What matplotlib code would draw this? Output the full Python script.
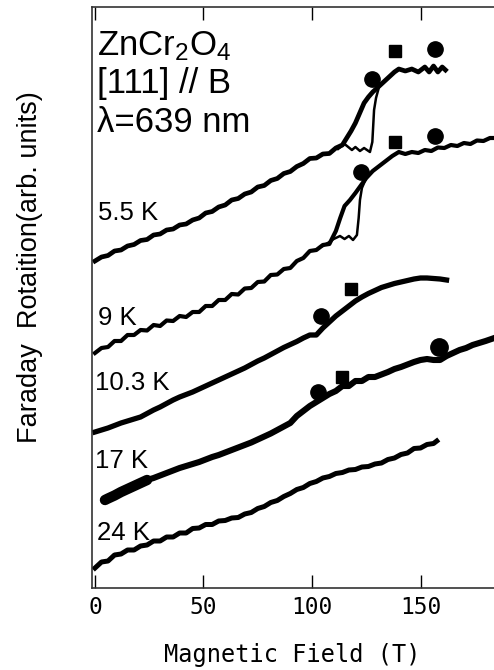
import matplotlib
matplotlib.use("Agg")
import matplotlib.pyplot as plt

# Faraday rotation traces (arb. units, curves already offset for display)
# 24 K
field_24K = [0, 3, 6, 9, 12, 15, 18, 21, 24, 27, 30, 33, 36, 39, 42, 45, 48, 51, 54, 57,
             60, 63, 66, 69, 72, 75, 78, 81, 84, 87, 90, 93, 96, 99, 102, 105, 108, 111, 114, 117,
             120, 123, 126, 129, 132, 135, 138, 141, 144, 147, 150, 153, 156, 157.5]
rot_24K = [2.0, 2.6, 2.7, 3.3, 3.4, 3.8, 3.8, 4.2, 4.3, 4.7, 4.7, 5.1, 5.1, 5.5, 5.5, 5.95, 6.0, 6.35, 6.35, 6.7,
           6.75, 7.0, 7.05, 7.4, 7.55, 7.95, 8.15, 8.55, 8.75, 9.15, 9.45, 9.85, 10.05, 10.45, 10.65, 11.0, 11.15, 11.45, 11.55, 11.8,
           11.85, 12.1, 12.15, 12.4, 12.5, 12.85, 13.0, 13.35, 13.5, 13.95, 14.0, 14.35, 14.45, 14.7]

# 17 K
field_17K = [4.6, 6, 9, 12, 15, 18, 21, 24, 27, 30, 33, 36, 39, 42, 45, 48, 51, 54, 57, 60,
             63, 66, 69, 72, 75, 78, 81, 84, 87, 90, 93, 96, 99, 102, 105, 108, 111, 114, 117, 120,
             123, 126, 129, 132, 135, 138, 141, 144, 147, 150, 153, 156, 159, 162, 165, 168, 171, 174, 177, 180, 184]
rot_17K = [8.8, 8.95, 9.25, 9.6, 9.9, 10.2, 10.5, 10.8, 11.0, 11.25, 11.5, 11.75, 12.0, 12.2, 12.4, 12.6, 12.85, 13.1, 13.3, 13.55,
           13.8, 14.05, 14.3, 14.55, 14.85, 15.15, 15.45, 15.8, 16.15, 16.5, 17.2, 17.7, 18.2, 18.6, 19.0, 19.4, 19.7, 20.2, 20.2, 20.7,
           20.7, 21.1, 21.1, 21.35, 21.6, 21.9, 22.1, 22.35, 22.6, 22.8, 22.9, 22.8, 22.8, 23.2, 23.5, 23.8, 24.0, 24.3, 24.5, 24.7, 25.0]

# 10.3 K
field_10K = [0, 3, 6, 9, 12, 15, 18, 21, 24, 27, 30, 33, 36, 39, 42, 45, 48, 51, 54, 57,
             60, 63, 66, 69, 72, 75, 78, 81, 84, 87, 90, 93, 96, 99, 102, 105, 108, 111, 114, 117,
             120, 123, 126, 129, 132, 135, 138, 141, 144, 147, 150, 153, 156, 159, 162]
rot_10K = [15.6, 15.8, 16.0, 16.25, 16.5, 16.7, 16.9, 17.1, 17.45, 17.8, 18.1, 18.45, 18.8, 19.1, 19.35, 19.6, 19.9, 20.2, 20.5, 20.8,
           21.1, 21.4, 21.7, 22.0, 22.35, 22.7, 23.0, 23.35, 23.7, 24.05, 24.35, 24.65, 25.0, 25.3, 25.3, 26.0, 26.6, 27.2, 27.7, 28.2,
           28.7, 29.1, 29.45, 29.75, 30.05, 30.25, 30.45, 30.6, 30.75, 30.9, 31.0, 31.0, 30.95, 30.9, 30.8]

# 9 K (down sweep, full trace) and up sweep branch around the jump
field_9K = [0, 3, 6, 9, 12, 15, 18, 21, 24, 27, 30, 33, 36, 39, 42, 45, 48, 51, 54, 57,
            60, 63, 66, 69, 72, 75, 78, 81, 84, 87, 90, 93, 96, 99, 102, 105, 108,
            111, 113, 115, 117.5, 120, 122, 125, 128, 131, 134, 137, 140, 143, 146, 149, 152, 155, 158,
            161, 164, 167, 170, 173, 176, 179, 182, 185]
rot_9K = [23.5, 24.0, 24.1, 24.7, 24.7, 25.3, 25.3, 25.8, 25.75, 26.3, 26.2, 26.75, 26.7, 27.2, 27.1, 27.6, 27.6, 28.2, 28.2, 28.8,
          28.8, 29.4, 29.35, 29.95, 30.0, 30.6, 30.65, 31.3, 31.35, 31.9, 32.0, 32.7, 33.0, 33.7, 33.8, 34.3, 34.4,
          35.7, 37.0, 38.2, 38.8, 39.5, 40.1, 41.0, 41.7, 42.2, 42.7, 43.2, 43.6, 43.4, 43.6, 43.5, 43.8, 43.7, 44.05,
          44.0, 44.3, 44.2, 44.5, 44.4, 44.75, 44.7, 45.0, 45.0]
field_9K_up = [105, 108, 110, 112.9, 115, 117, 118.9, 120.7, 121.5, 122.1, 123.0, 125]
rot_9K_up = [34.2, 34.6, 34.9, 35.2, 34.9, 35.2, 34.8, 35.3, 37.0, 38.8, 40.0, 41.0]

# 5.5 K
field_5K = [0, 3, 6, 9, 12, 15, 18, 21, 24, 27, 30, 33, 36, 39, 42, 45, 48, 51, 54, 57,
            60, 63, 66, 69, 72, 75, 78, 81, 84, 87, 90, 93, 96, 99, 102, 105, 108, 111, 114,
            116, 118, 120, 122, 124, 126, 128, 130, 132, 134, 136, 138, 140, 143, 146, 149, 152, 154, 156, 158, 160, 161.5]
rot_5K = [32.7, 33.1, 33.25, 33.7, 33.8, 34.2, 34.35, 34.75, 34.85, 35.3, 35.4, 35.8, 35.9, 36.3, 36.4, 36.8, 37.0, 37.5, 37.65, 38.1,
          38.3, 38.8, 38.95, 39.4, 39.6, 40.1, 40.25, 40.75, 40.95, 41.45, 41.65, 42.15, 42.45, 42.95, 43.0, 43.4, 43.45, 44.0, 44.3,
          45.0, 45.7, 46.5, 47.5, 48.5, 49.1, 49.6, 50.0, 50.4, 50.8, 51.2, 51.6, 51.9, 51.7, 51.9, 51.6, 52.1, 51.6, 52.2, 51.6, 52.1, 51.8]
field_5K_up = [112, 115, 118.4, 120, 122.1, 124, 126.7, 127.8, 128.6, 129.5, 131]
rot_5K_up = [43.9, 44.4, 43.8, 44.1, 43.7, 44.0, 43.6, 44.6, 47.8, 49.0, 50.2]

# critical field markers
circle_B = [127.6, 156.7, 122.6, 156.7, 104.1, 102.8]
circle_y = [50.9, 53.9, 41.6, 45.2, 27.2, 19.6]
big_circle_B = [158.5]
big_circle_y = [24.1]
square_B = [138.2, 138.2, 118.0, 113.8]
square_y = [53.7, 44.6, 29.9, 21.1]

temp_labels = ["5.5 K", "9 K", "10.3 K", "17 K", "24 K"]
temp_label_B = [1.4, 1.4, 0.0, 0.0, 0.9]
temp_label_y = [36.8, 26.3, 19.8, 12.0, 4.8]

plt.rcParams['mathtext.fontset'] = 'custom'
plt.rcParams['mathtext.rm'] = 'Liberation Sans'
plt.rcParams['mathtext.it'] = 'Liberation Sans'

fig = plt.figure(figsize=(4.94, 6.70), dpi=100)
ax = fig.add_axes([92 / 494, 82 / 670, 428 / 494, 581 / 670])

# traces
ax.plot(field_24K, rot_24K, color='black', lw=3.6)
ax.plot(field_17K, rot_17K, color='black', lw=4.4)
ax.plot(field_17K[:8], rot_17K[:8], color='black', lw=7.5, solid_capstyle='round')
ax.plot(field_10K, rot_10K, color='black', lw=3.8)
ax.plot(field_9K, rot_9K, color='black', lw=3.0)
ax.plot(field_9K_up, rot_9K_up, color='black', lw=1.8)
ax.plot(field_5K, rot_5K, color='black', lw=3.4)
ax.plot(field_5K_up, rot_5K_up, color='black', lw=1.8)

# markers
ax.plot(circle_B, circle_y, 'o', color='black', ms=11)
ax.plot(big_circle_B, big_circle_y, 'o', color='black', ms=12.5)
ax.plot(square_B, square_y, 's', color='black', ms=9)

# labels inside the plot
for lab, b, y in zip(temp_labels, temp_label_B, temp_label_y):
    ax.text(b, y, lab, fontsize=18.5, family='Liberation Sans', ha='left', va='baseline')
ax.text(0.9, 53.3, r"ZnCr$_2$O$_4$", fontsize=25, family='Liberation Sans', va='baseline')
ax.text(0.9, 49.5, "[111] // B", fontsize=25, family='Liberation Sans', va='baseline')
ax.text(0.9, 45.6, "λ=639 nm", fontsize=25, family='Liberation Sans', va='baseline')

# axes formatting
ax.set_xlim(-1.38, 195.85)
ax.set_ylim(0, 58.1)
ax.set_xticks([0, 50, 100, 150])
ax.set_yticks([])
ax.tick_params(axis='x', direction='in', top=True, length=9.5, width=1.0, pad=6, labelsize=16.5)
for lbl in ax.get_xticklabels():
    lbl.set_family('DejaVu Sans Mono')
ax.spines['right'].set_visible(False)
for s in ['left', 'bottom', 'top']:
    ax.spines[s].set_linewidth(1.2)
    ax.spines[s].set_color('#333333')

fig.text(292 / 494, 1 - 655 / 670, "Magnetic Field (T)", fontsize=17, family='DejaVu Sans Mono',
         ha='center', va='center')
fig.text(30 / 494, 1 - 267 / 670, "Faraday  Rotaition(arb. units)", fontsize=19.5, family='Liberation Sans',
         rotation=90, ha='center', va='center')

plt.savefig("out.png", dpi=100)
